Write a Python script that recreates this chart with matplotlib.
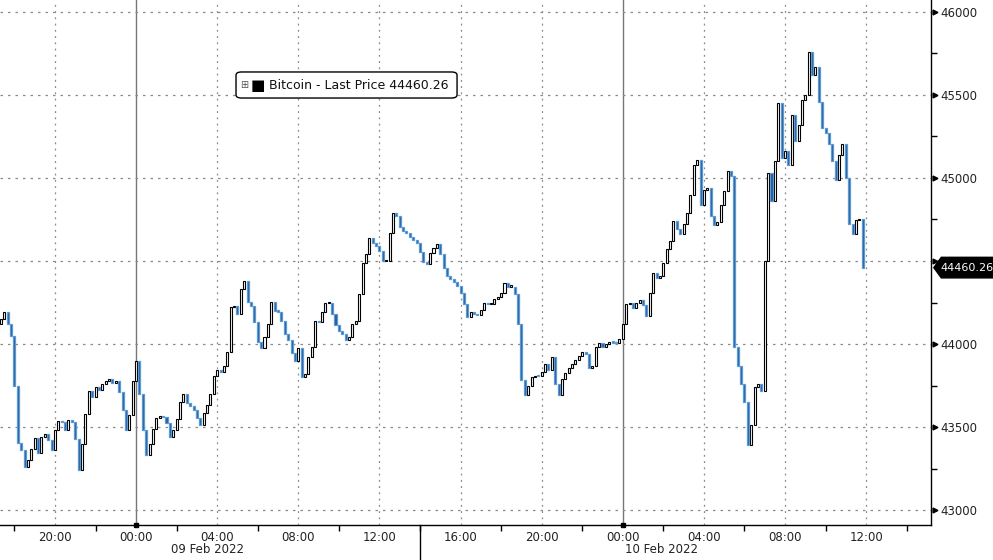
import matplotlib
matplotlib.use("Agg")
import matplotlib.pyplot as plt
import matplotlib.transforms as mtransforms
from matplotlib.patches import Polygon, FancyBboxPatch
import numpy as np

# 10-minute Bitcoin closes, first bar 08 Feb 2022 17:20, last bar 10 Feb 2022 11:50
closes = [
    44150, 44190, 44120, 44050, 43750, 43405, 43360, 43260, 43300, 43370, 43435, 43345,
    43440, 43460, 43420, 43360, 43480, 43535, 43530, 43480, 43545, 43530, 43430, 43240,
    43400, 43580, 43715, 43680, 43740, 43725, 43760, 43780, 43790, 43765, 43775, 43710,
    43600, 43480, 43570, 43780, 43900, 43700, 43480, 43330, 43400, 43490, 43555, 43565,
    43560, 43525, 43440, 43480, 43550, 43650, 43700, 43645, 43625, 43600, 43555, 43510,
    43585, 43630, 43700, 43810, 43845, 43830, 43870, 43950, 44220, 44230, 44180, 44330,
    44380, 44255, 44230, 44135, 44010, 43975, 44040, 44120, 44255, 44200, 44195, 44140,
    44060, 44025, 43945, 43895, 43975, 43800, 43820, 43920, 43985, 44140, 44130, 44190,
    44245, 44250, 44180, 44115, 44080, 44060, 44025, 44045, 44120, 44140, 44300, 44490,
    44540, 44640, 44610, 44590, 44560, 44500, 44500, 44670, 44790, 44770, 44705, 44680,
    44670, 44645, 44625, 44610, 44555, 44495, 44480, 44550, 44580, 44605, 44545, 44460,
    44410, 44390, 44375, 44350, 44305, 44240, 44165, 44195, 44180, 44175, 44205, 44245,
    44240, 44240, 44270, 44285, 44305, 44370, 44345, 44345, 44300, 44120, 43785, 43690,
    43750, 43800, 43810, 43805, 43830, 43880, 43845, 43920, 43760, 43690, 43790, 43825,
    43855, 43880, 43905, 43930, 43950, 43940, 43855, 43870, 43985, 44005, 43980, 44000,
    44010, 44008, 44006, 44030, 44120, 44240, 44245, 44215, 44250, 44265, 44235, 44170,
    44310, 44430, 44395, 44410, 44490, 44570, 44620, 44740, 44695, 44665, 44720, 44790,
    44900, 45080, 45110, 44840, 44930, 44940, 44770, 44715, 44735, 44840, 44920, 45040,
    45010, 43980, 43870, 43760, 43650, 43390, 43510, 43740, 43760, 43720, 44500, 45030,
    44860, 45100, 45450, 45120, 45160, 45080, 45380, 45220, 45320, 45470, 45500, 45760,
    45620, 45670, 45460, 45300, 45270, 45205, 45100, 44985, 45140, 45205, 45000, 44720,
    44665, 44745, 44750, 44460.26,
]
first_open = 44120
last_price = 44460.26

tick_hours = [-4, 0, 4, 8, 12, 16, 20, 24, 28, 32, 36]
tick_labels = ["20:00", "00:00", "04:00", "08:00", "12:00", "16:00",
               "20:00", "00:00", "04:00", "08:00", "12:00"]
date_labels = ["09 Feb 2022", "10 Feb 2022"]
price_ticks = [43000, 43500, 44000, 44500, 45000, 45500, 46000]

# hours relative to 09 Feb 00:00
start_hour = -6 - 40 / 60
t = start_hour + np.arange(len(closes)) / 6.0
c = np.array(closes, dtype=float)
o = np.concatenate([[first_open], c[:-1]])

plt.rcParams['font.family'] = 'DejaVu Sans'
fig = plt.figure(figsize=(9.93, 5.6), dpi=100)
ax = fig.add_axes([0.0, 0.0625, 0.9376, 0.9375])

ax.set_xlim(-6.71, 39.2)
ax.set_ylim(42910, 46072)

grid_col = "#8a8a8a"
for h in tick_hours:
    if h in (0, 24):
        ax.axvline(h, color="#777777", lw=1.0, zorder=1)
    else:
        ax.axvline(h, color=grid_col, lw=0.9, ls=(0, (1.5, 3.5)), zorder=1)
for p in price_ticks:
    ax.axhline(p, color=grid_col, lw=0.9, ls=(0, (2, 4)), zorder=1)

up = c >= o
bottom = np.minimum(o, c)
height = np.maximum(np.abs(c - o), 8)
w = 0.10
ax.bar(t[up], height[up], bottom=bottom[up], width=w, color="white",
       edgecolor="black", linewidth=0.8, zorder=3)
ax.bar(t[~up], height[~up], bottom=bottom[~up], width=w, color="#2b5797",
       edgecolor="#5b9bd5", linewidth=0.9, zorder=3)

# spines
for s in ("left", "top"):
    ax.spines[s].set_visible(False)
for s in ("right", "bottom"):
    ax.spines[s].set_color("black")
    ax.spines[s].set_linewidth(1.0)

# y axis on the right
ax.yaxis.tick_right()
ax.set_yticks(price_ticks)
ax.set_yticklabels([str(p) for p in price_ticks], fontsize=8.5, color="#222222")
ax.set_yticks([43250, 43750, 44250, 44750, 45250, 45750], minor=True)
ax.tick_params(axis="y", which="major", length=0, pad=7)
ax.tick_params(axis="y", which="minor", length=4, width=1, direction="out")
ytr = mtransforms.blended_transform_factory(ax.transAxes, ax.transData)
ax.plot([1.004] * len(price_ticks), price_ticks, ">", ms=3.5, color="black",
        transform=ytr, clip_on=False, zorder=5)

# x axis
ax.set_xticks(tick_hours)
ax.set_xticklabels(tick_labels, fontsize=8.5, color="#222222")
ax.set_xticks([-6, -2, 2, 6, 10, 14, 18, 22, 26, 30, 34, 38], minor=True)
ax.tick_params(axis="x", which="major", length=0, pad=4)
ax.tick_params(axis="x", which="minor", length=4, width=1, direction="out")
xtr = mtransforms.blended_transform_factory(ax.transData, ax.transAxes)
ax.text(3.5, -0.034, date_labels[0], transform=xtr, ha="center", va="top",
        fontsize=8.5, color="#222222")
ax.text(25.9, -0.034, date_labels[1], transform=xtr, ha="center", va="top",
        fontsize=8.5, color="#222222")
ax.plot([0, 24], [0, 0], "s", ms=3, color="black", transform=xtr,
        clip_on=False, zorder=5)
ax.plot([14, 14], [0, -0.07], color="black", lw=1, transform=xtr, clip_on=False)

# last price tag
hh = 62
tag = Polygon([(1.003, last_price), (1.011, last_price + hh), (1.08, last_price + hh),
               (1.08, last_price - hh), (1.011, last_price - hh)],
              closed=True, fc="black", ec="black", transform=ytr, clip_on=False, zorder=6)
ax.add_patch(tag)
ax.text(1.0105, last_price, "%.2f" % last_price, transform=ytr, ha="left",
        va="center", fontsize=8, color="white", zorder=7)

# legend box
box = FancyBboxPatch((0.2535, 0.8133), 0.2374, 0.0496,
                     boxstyle="round,pad=0,rounding_size=0.006",
                     transform=ax.transAxes, fc="white", ec="black", lw=1, zorder=6)
ax.add_patch(box)
ax.text(0.262, 0.838, "\u229e", transform=ax.transAxes, ha="center", va="center",
        fontsize=7, color="#555555", zorder=7)
ax.text(0.277, 0.838, "\u25a0", transform=ax.transAxes, ha="center", va="center",
        fontsize=11, color="black", zorder=7)
ax.text(0.289, 0.837, "Bitcoin - Last Price %.2f" % last_price,
        transform=ax.transAxes, ha="left", va="center", fontsize=9,
        color="#111111", zorder=7)

fig.savefig("out.png", dpi=100)
